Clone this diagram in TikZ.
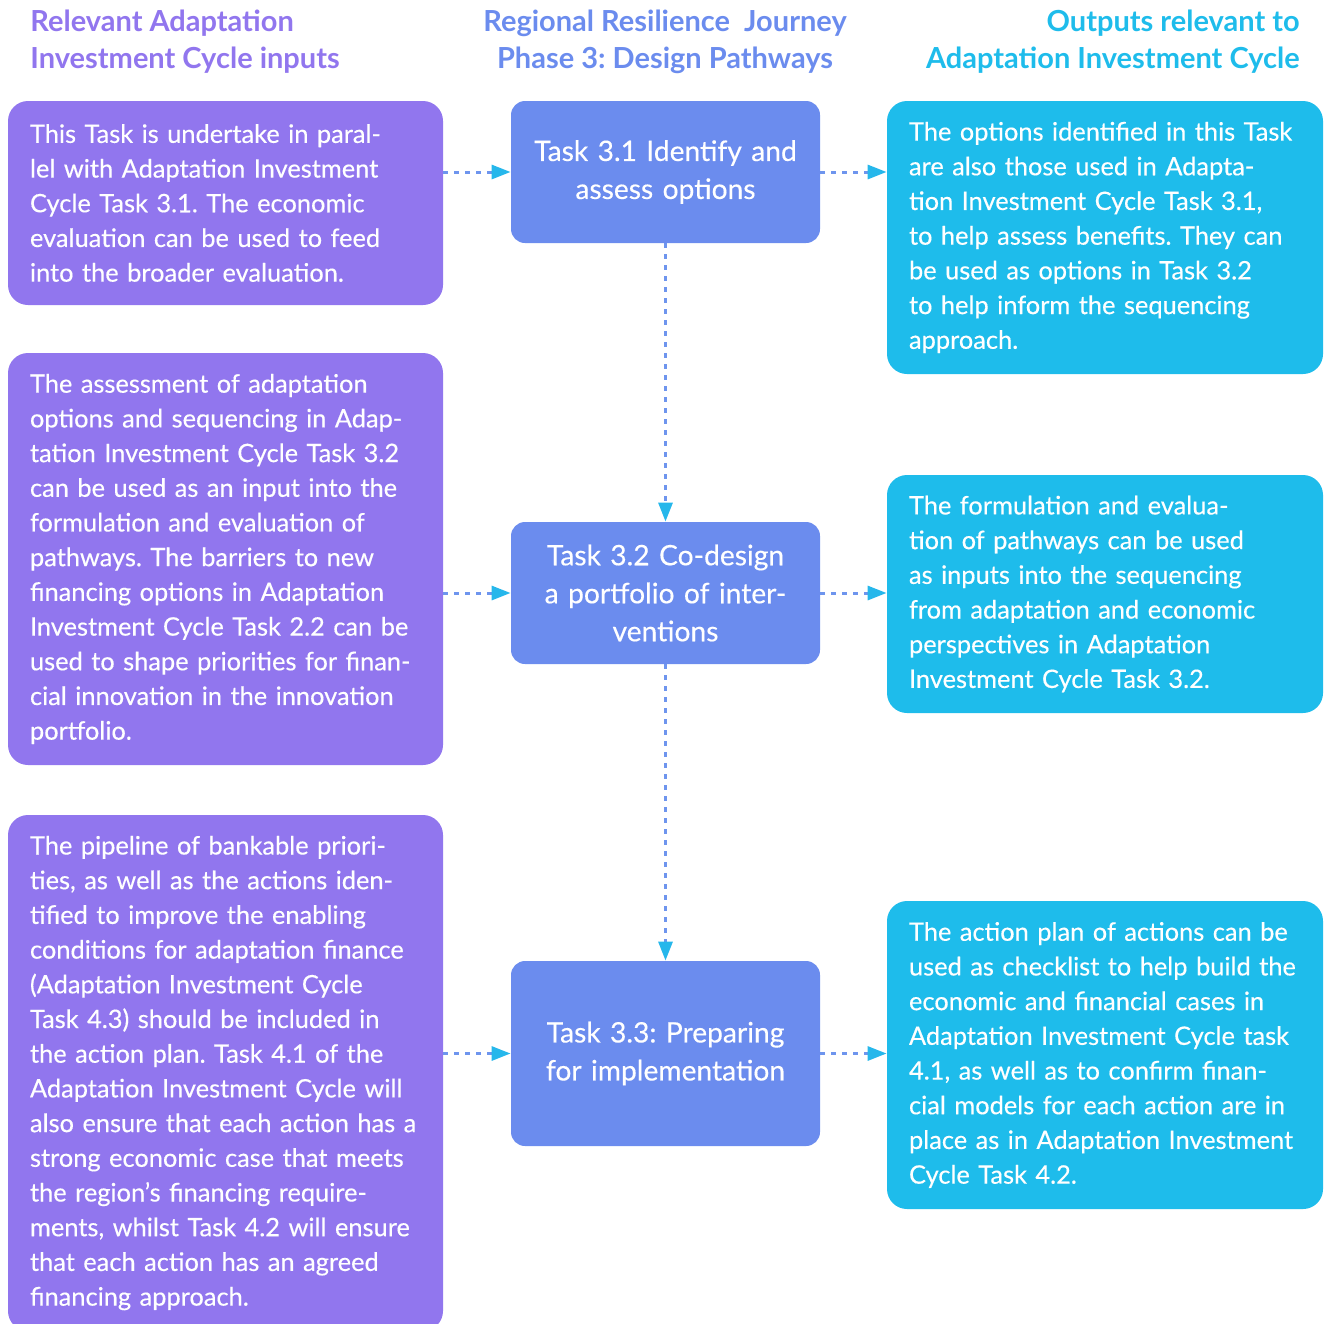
\documentclass[tikz,border=0pt]{standalone}
\usepackage{fontspec}
\setmainfont{Lato}[UprightFeatures={FakeBold=0.35}]
\frenchspacing
\usetikzlibrary{arrows.meta}
\definecolor{inpurple}{HTML}{9176EE}
\definecolor{taskblue}{HTML}{6B8CEE}
\definecolor{outcyan}{HTML}{1EBCEB}
\definecolor{linkblue}{HTML}{6E95EE}
\begin{document}
\begin{tikzpicture}[x=0.5pt,y=-0.5pt,
    inbox/.style={fill=inpurple, text=white, rounded corners=10pt, align=left,
      text width=195.5pt, inner xsep=11pt, minimum width=217.5pt,
      font=\fontsize{12.7}{17.35}\selectfont},
    outbox/.style={fill=outcyan, text=white, rounded corners=10pt, align=left,
      text width=196pt, inner xsep=11pt, minimum width=218pt,
      font=\fontsize{12.7}{17.35}\selectfont},
    taskbox/.style={fill=taskblue, text=white, rounded corners=7pt, align=center,
      text width=140pt, minimum width=154.5pt,
      font=\fontsize{14.1}{19}\selectfont},
    head/.style={inner sep=0pt, font=\fontsize{14.5}{18.5}\selectfont\bfseries},
    link/.style={draw=linkblue, line width=1.5pt, dash pattern=on 2.5pt off 3pt,
      -{Triangle[length=9.5pt,width=7pt,color=outcyan!90!taskblue]}}]
  \useasboundingbox (0,0) rectangle (1325,1323);

  % column headers
  \node[head, text=inpurple, anchor=north west, align=left] (hin) at (30,10)
    {Relevant Adaptation\\Investment Cycle inputs};
  \node[head, text=taskblue, anchor=north, align=center] (htask) at (665,10)
    {Regional Resilience\ \ Journey\\Phase 3: Design Pathways};
  \node[head, text=outcyan, anchor=north east, align=right] (hout) at (1300,10)
    {Outputs relevant to\\Adaptation Investment Cycle};

  % inputs
  \node[inbox, minimum height=102pt] (in1) at (225.5,203)
    {This Task is undertake in paral-\\lel with Adaptation Investment\\Cycle Task 3.1. The economic\\evaluation can be used to feed\\into the broader evaluation.};
  \node[inbox, minimum height=206pt] (in2) at (225.5,559)
    {The assessment of adaptation\\options and sequencing in Adap-\\tation Investment Cycle Task 3.2\\can be used as an input into the\\formulation and evaluation of\\pathways. The barriers to new\\financing options in Adaptation\\Investment Cycle Task 2.2 can be\\used to shape priorities for finan-\\cial innovation in the innovation\\portfolio.};
  \node[inbox, minimum height=258pt] (in3) at (225.5,1073)
    {The pipeline of bankable priori-\\ties, as well as the actions iden-\\tified to improve the enabling\\conditions for adaptation finance\\(Adaptation Investment Cycle\\Task 4.3) should be included in\\the action plan. Task 4.1 of the\\Adaptation Investment Cycle will\\also ensure that each action has a\\strong economic case that meets\\the region’s financing require-\\ments, whilst Task 4.2 will ensure\\that each action has an agreed\\financing approach.};

  % tasks
  \node[taskbox, minimum height=71pt] (task1) at (665.5,172)
    {Task 3.1 Identify and\\assess options};
  \node[taskbox, minimum height=71pt] (task2) at (665.5,593)
    {Task 3.2 Co-design\\a portfolio of inter-\\ventions};
  \node[taskbox, minimum height=92.5pt] (task3) at (665.5,1053.5)
    {Task 3.3: Preparing\\for implementation};

  % outputs
  \node[outbox, minimum height=136.5pt] (out1) at (1105,237.5)
    {The options identified in this Task\\are also those used in Adapta-\\tion Investment Cycle Task 3.1,\\to help assess benefits. They can\\be used as options in Task 3.2\\to help inform the sequencing\\approach.};
  \node[outbox, minimum height=119pt] (out2) at (1105,594)
    {The formulation and evalua-\\tion of pathways can be used\\as inputs into the sequencing\\from adaptation and economic\\perspectives in Adaptation\\Investment Cycle Task 3.2.};
  \node[outbox, minimum height=154pt] (out3) at (1105,1055)
    {The action plan of actions can be\\used as checklist to help build the\\economic and financial cases in\\Adaptation Investment Cycle task\\4.1, as well as to confirm finan-\\cial models for each action are in\\place as in Adaptation Investment\\Cycle Task 4.2.};

  % connectors
  \draw[link] (in1.east |- task1.west) -- (task1.west);
  \draw[link] (in2.east |- task2.west) -- (task2.west);
  \draw[link] (in3.east |- task3.west) -- (task3.west);
  \draw[link] (task1.east) -- (out1.west |- task1.east);
  \draw[link] (task2.east) -- (out2.west |- task2.east);
  \draw[link] (task3.east) -- (out3.west |- task3.east);
  \draw[link] (task1.south) -- (task2.north);
  \draw[link] (task2.south) -- (task3.north);
\end{tikzpicture}
\end{document}
